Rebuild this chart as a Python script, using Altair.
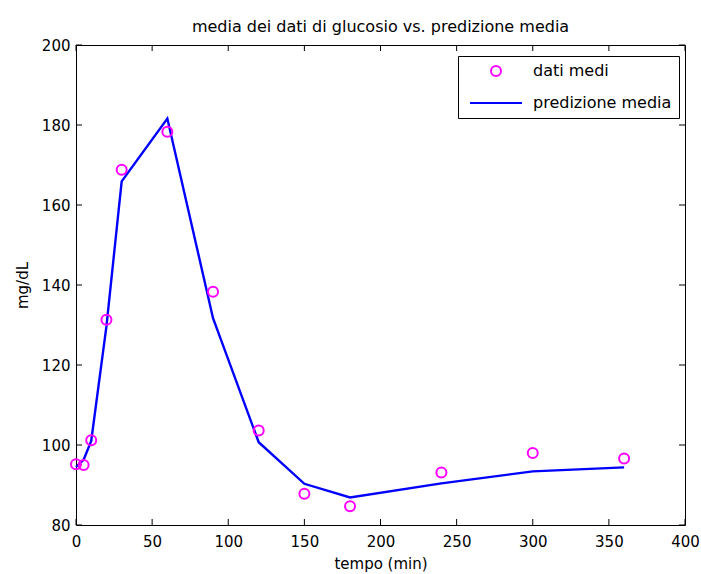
import altair as alt
import pandas as pd

# --- data ---
tempo = [0, 5, 10, 20, 30, 60, 90, 120, 150, 180, 240, 300, 360]
glucosio_medio = [95.2, 95.0, 101.2, 131.3, 168.8, 178.3, 138.3, 103.6, 87.8, 84.7, 93.1, 98.0, 96.6]
glucosio_predetto = [94.5, 96.3, 101.0, 129.7, 165.9, 181.6, 131.7, 100.7, 90.3, 86.9, 90.4, 93.4, 94.4]
serie = ["dati medi", "predizione media"]
colori = ["#FF00FF", "#0000FF"]
x_ticks = [0, 50, 100, 150, 200, 250, 300, 350, 400]
y_ticks = [80, 100, 120, 140, 160, 180, 200]

FONT = "DejaVu Sans"
W, H = 609, 480

obs = pd.DataFrame({"t": tempo, "g": glucosio_medio, "serie": serie[0]})
pred = pd.DataFrame({"t": tempo, "g": glucosio_predetto, "serie": serie[1]})
xt = pd.DataFrame({"v": x_ticks})
yt = pd.DataFrame({"v": y_ticks})

xscale = alt.Scale(domain=[0, 400], nice=False, zero=False)
yscale = alt.Scale(domain=[80, 200], nice=False, zero=False)

legend = alt.Legend(
    title=None,
    orient="none",
    legendX=382,
    legendY=11,
    strokeColor="black",
    fillColor="white",
    padding=7,
    cornerRadius=0,
    labelFont=FONT,
    labelFontSize=16,
    labelColor="black",
    rowPadding=15,
    symbolSize=100,
    symbolStrokeWidth=2,
    symbolFillColor="transparent",
    symbolOffset=23,
    labelOffset=29,
    symbolType={"expr": "datum.value === 'dati medi' ? 'circle' : 'M -5.2,0 L 5.2,0'"},
)
color = alt.Color("serie:N", scale=alt.Scale(domain=serie, range=colori), legend=legend)

xaxis = alt.Axis(values=x_ticks, ticks=False, domain=False, grid=False, labelFlush=False,
                 labelPadding=9, title="tempo (min)", titlePadding=7)
yaxis = alt.Axis(values=y_ticks, ticks=False, domain=False, grid=False, labelFlush=False,
                 labelPadding=6, title="mg/dL", titlePadding=11)


def X(field):
    return alt.X(field, scale=xscale, axis=xaxis)


def Y(field):
    return alt.Y(field, scale=yscale, axis=yaxis)


line = alt.Chart(pred).mark_line(strokeWidth=2.4).encode(x=X("t:Q"), y=Y("g:Q"), color=color)
pts = alt.Chart(obs).mark_point(filled=False, size=100, strokeWidth=2, opacity=1).encode(
    x=X("t:Q"), y=Y("g:Q"), color=color)

tick_bottom = alt.Chart(xt).mark_rule(color="black", strokeWidth=1).encode(
    x=X("v:Q"), y=alt.value(H), y2=alt.value(H - 6))
tick_top = alt.Chart(xt).mark_rule(color="black", strokeWidth=1).encode(
    x=X("v:Q"), y=alt.value(0), y2=alt.value(6))
tick_left = alt.Chart(yt).mark_rule(color="black", strokeWidth=1).encode(
    y=Y("v:Q"), x=alt.value(0), x2=alt.value(6))
tick_right = alt.Chart(yt).mark_rule(color="black", strokeWidth=1).encode(
    y=Y("v:Q"), x=alt.value(W), x2=alt.value(W - 6))

chart = (
    alt.layer(line, pts, tick_bottom, tick_top, tick_left, tick_right)
    .properties(
        width=W,
        height=H,
        autosize=alt.AutoSizeParams(type="none"),
        padding={"left": 76, "top": 45, "right": 16, "bottom": 49},
        title=alt.TitleParams(
            "media dei dati di glucosio vs. predizione media",
            font=FONT, fontSize=16, fontWeight="normal", color="black", offset=3, anchor="middle",
        ),
        background="white",
    )
    .configure_view(stroke="black", strokeWidth=1)
    .configure_axis(labelFont=FONT, labelFontSize=15, labelColor="black",
                    titleFont=FONT, titleFontSize=15, titleFontWeight="normal", titleColor="black")
)

chart.save("out.html", embed_options={"renderer": "svg", "actions": False})
